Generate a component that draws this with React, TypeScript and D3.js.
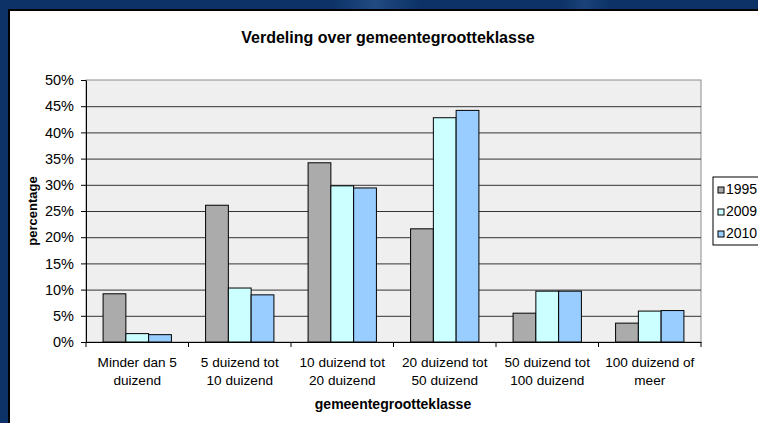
import { useEffect, useRef } from 'react';
import * as d3 from 'd3';

const categories = [
  ['Minder dan 5', 'duizend'],
  ['5 duizend tot', '10 duizend'],
  ['10 duizend tot', '20 duizend'],
  ['20 duizend tot', '50 duizend'],
  ['50 duizend tot', '100 duizend'],
  ['100 duizend of', 'meer'],
];
const seriesNames = ['1995', '2009', '2010'];
const values1995 = [9.2, 26.1, 34.2, 21.6, 5.5, 3.6];
const values2009 = [1.6, 10.3, 29.8, 42.8, 9.7, 5.9];
const values2010 = [1.4, 9.0, 29.4, 44.2, 9.7, 6.0];
const yTicks = [0, 5, 10, 15, 20, 25, 30, 35, 40, 45, 50];

const colors = ['#ABABAB', '#CCFFFF', '#99CCFF'];
const FONT = '"Liberation Sans", Arial, sans-serif';

const App = () => {
  const svgRef = useRef(null);

  useEffect(() => {
    document.body.style.margin = '0';
    const width = 758;
    const height = 423;
    const plot = { left: 86, top: 80, right: 701, bottom: 342 };

    const svg = d3.select(svgRef.current)
      .attr('width', width)
      .attr('height', height);
    svg.selectAll('*').remove();

    // dark blue slide background
    const defs = svg.append('defs');
    const grad = defs.append('linearGradient').attr('id', 'streak').attr('x1', 0).attr('x2', 1);
    grad.append('stop').attr('offset', '0%').attr('stop-color', '#0C3267');
    grad.append('stop').attr('offset', '50%').attr('stop-color', '#2A558C');
    grad.append('stop').attr('offset', '100%').attr('stop-color', '#0C3267');
    svg.append('rect').attr('width', width).attr('height', height).attr('fill', '#0C3267');
    svg.append('rect').attr('x', 330).attr('y', 0).attr('width', 90).attr('height', 10).attr('fill', 'url(#streak)').attr('opacity', 0.7);
    svg.append('rect').attr('x', 560).attr('y', 0).attr('width', 50).attr('height', 10).attr('fill', 'url(#streak)').attr('opacity', 0.5);

    // white chart panel
    svg.append('rect')
      .attr('x', 9).attr('y', 10)
      .attr('width', 770).attr('height', 430)
      .attr('fill', '#FFFFFF')
      .attr('stroke', '#000').attr('stroke-width', 2);

    const x0 = d3.scaleBand()
      .domain(categories.map(d => d.join(' ')))
      .range([plot.left, plot.right])
      .padding(0);
    const x1 = d3.scaleBand()
      .domain(seriesNames)
      .range([0, x0.bandwidth()])
      .paddingInner(0)
      .paddingOuter(0.75);
    const y = d3.scaleLinear()
      .domain([0, 50])
      .range([plot.bottom, plot.top]);

    // plot area
    svg.append('rect')
      .attr('x', plot.left).attr('y', plot.top)
      .attr('width', plot.right - plot.left).attr('height', plot.bottom - plot.top)
      .attr('fill', '#EFEFEF')
      .attr('stroke', '#8C8C8C');

    // gridlines
    svg.append('g')
      .selectAll('line')
      .data(yTicks.filter(t => t > 0 && t < 50))
      .enter().append('line')
      .attr('x1', plot.left).attr('x2', plot.right)
      .attr('y1', d => y(d) + 0.5).attr('y2', d => y(d) + 0.5)
      .attr('stroke', '#333')
      .attr('stroke-width', 1);

    // bars
    const series = [values1995, values2009, values2010];
    const g = svg.append('g');
    categories.forEach((cat, ci) => {
      series.forEach((vals, si) => {
        const v = vals[ci];
        g.append('rect')
          .attr('x', x0(cat.join(' ')) + x1(seriesNames[si]))
          .attr('y', y(v))
          .attr('width', x1.bandwidth())
          .attr('height', y(0) - y(v))
          .attr('fill', colors[si])
          .attr('stroke', '#000')
          .attr('stroke-width', 1);
      });
    });

    // y axis
    const yAxis = svg.append('g')
      .attr('transform', `translate(${plot.left},0)`)
      .call(d3.axisLeft(y).tickValues(yTicks).tickSize(5).tickSizeOuter(0).tickFormat(d => `${d}%`));
    yAxis.select('.domain').attr('stroke', '#000');
    yAxis.selectAll('line').attr('stroke', '#000');
    yAxis.selectAll('text')
      .attr('x', -12)
      .style('font-family', FONT)
      .style('font-size', '14.5px')
      .style('fill', '#000');

    // x axis
    const xAxis = svg.append('g')
      .attr('transform', `translate(0,${plot.bottom})`)
      .call(d3.axisBottom(x0).tickSize(0).tickSizeOuter(0).tickFormat(() => ''));
    xAxis.select('.domain').attr('stroke', '#000');
    const boundaries = [plot.left, ...categories.map(c => x0(c.join(' ')) + x0.bandwidth())];
    xAxis.selectAll('.bnd')
      .data(boundaries)
      .enter().append('line')
      .attr('x1', d => d).attr('x2', d => d)
      .attr('y1', 0).attr('y2', 5)
      .attr('stroke', '#000');

    // category labels
    categories.forEach(cat => {
      const cx = x0(cat.join(' ')) + x0.bandwidth() / 2;
      const t = svg.append('text')
        .attr('text-anchor', 'middle')
        .style('font-family', FONT)
        .style('font-size', '13.6px')
        .style('fill', '#000');
      cat.forEach((line, li) => {
        t.append('tspan').attr('x', cx).attr('y', 367 + li * 18).text(line);
      });
    });

    // titles
    svg.append('text')
      .attr('x', 388).attr('y', 43)
      .attr('text-anchor', 'middle')
      .style('font-family', FONT).style('font-size', '16px').style('font-weight', 'bold')
      .text('Verdeling over gemeentegrootteklasse');
    svg.append('text')
      .attr('x', 393).attr('y', 409)
      .attr('text-anchor', 'middle')
      .style('font-family', FONT).style('font-size', '14px').style('font-weight', 'bold')
      .text('gemeentegrootteklasse');
    svg.append('text')
      .attr('transform', `translate(37,${(plot.top + plot.bottom) / 2}) rotate(-90)`)
      .attr('text-anchor', 'middle')
      .style('font-family', FONT).style('font-size', '13px').style('font-weight', 'bold')
      .text('percentage');

    // legend
    const legend = svg.append('g').attr('transform', 'translate(713,177)');
    legend.append('rect')
      .attr('width', 70).attr('height', 68)
      .attr('fill', '#FFF').attr('stroke', '#000');
    seriesNames.forEach((name, i) => {
      legend.append('rect')
        .attr('x', 5).attr('y', 10 + i * 22)
        .attr('width', 6).attr('height', 6)
        .attr('fill', colors[i]).attr('stroke', '#000');
      legend.append('text')
        .attr('x', 13).attr('y', 16.5 + i * 22)
        .style('font-family', FONT).style('font-size', '14px')
        .text(name);
    });
  }, []);

  return <svg ref={svgRef} style={{ display: 'block' }}></svg>;
};

export default App;
